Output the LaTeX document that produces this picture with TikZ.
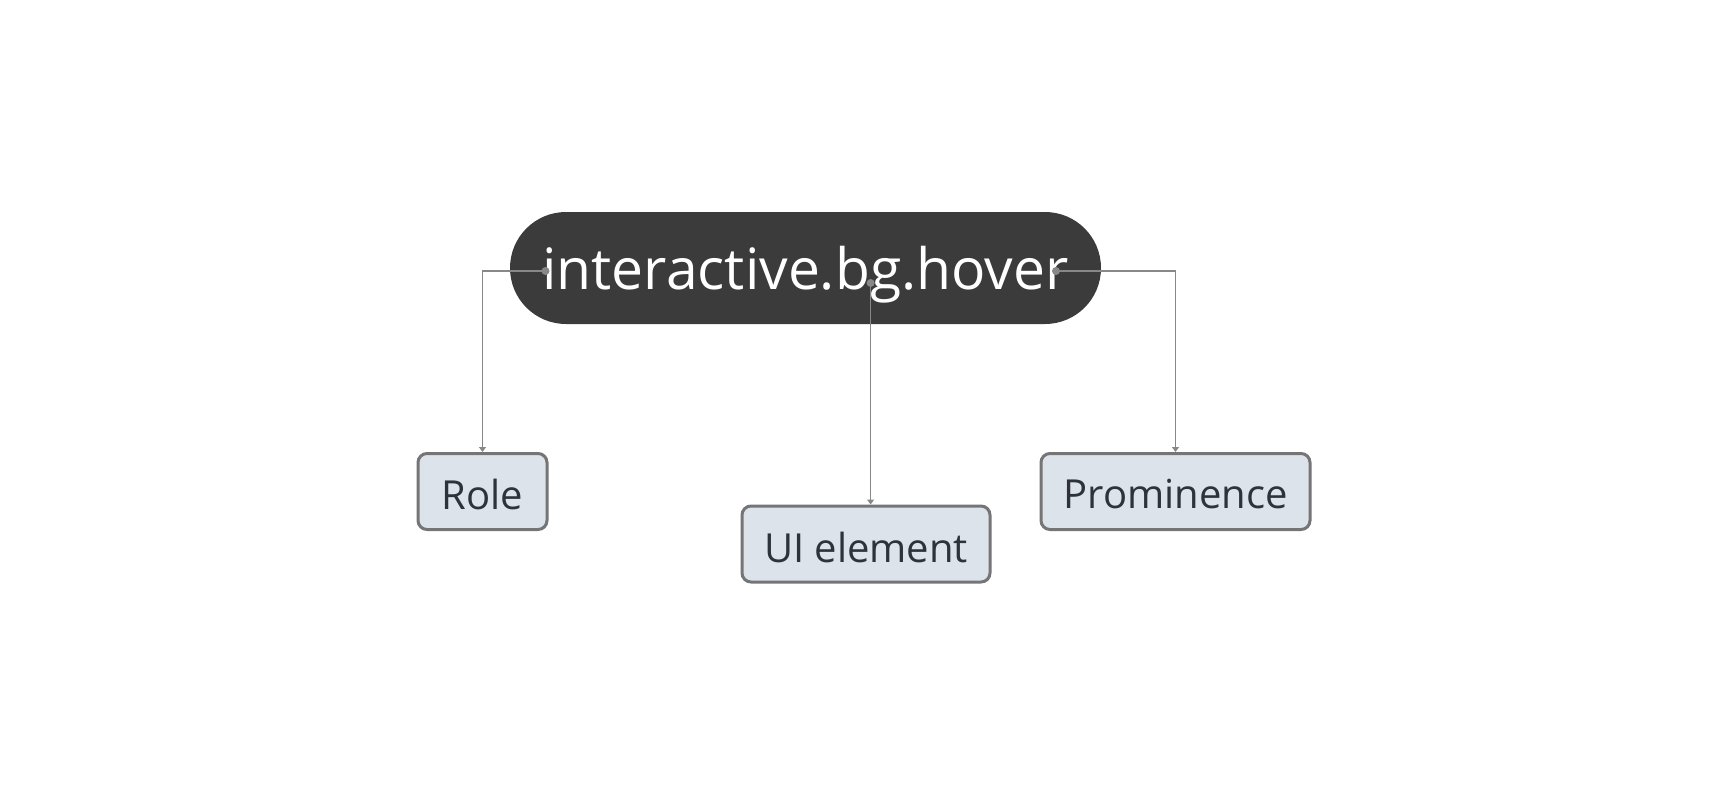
\documentclass[tikz,border=0pt]{standalone}
\usepackage{fontspec}
\setmainfont{Open Sans}
\usetikzlibrary{arrows.meta,calc}
\definecolor{pillc}{HTML}{3B3B3B}
\definecolor{boxfill}{HTML}{DDE3EA}
\definecolor{boxline}{HTML}{757575}
\definecolor{connc}{HTML}{888888}
\definecolor{txtc}{HTML}{2E323A}
\newcommand{\lowr}[2]{\raisebox{-#1}[\height][\depth]{#2}}
\tikzset{
  pillnode/.style={draw=none, fill=pillc, rounded corners=56pt, minimum width=591pt, minimum height=112pt, text=white, font=\fontsize{57}{62}\selectfont, inner sep=0pt},
  leaf/.style={draw=boxline, line width=3pt, fill=boxfill, rounded corners=9pt, minimum height=76pt, text=txtc, font=\fontsize{40}{46}\selectfont, inner sep=0pt},
  link/.style={draw=connc, line width=1.5pt, -{Triangle[width=7pt,length=5pt]}},
  dotc/.style={fill=connc}
}
\begin{document}
\begin{tikzpicture}[x=1pt,y=-1pt]
\useasboundingbox (0,0) rectangle (1728,800);
\node[pillnode] (main) at (805.5,268) {\lowr{7pt}{interactive.bg.hover}};
\node[leaf, minimum width=129pt] (role) at (482.5,491.5) {\lowr{3pt}{Role}};
\node[leaf, minimum width=248pt] (ui) at (866,544) {\lowr{3pt}{UI element}};
\node[leaf, minimum width=269pt] (prom) at (1175.5,491.5) {\lowr{3pt}{Prominence}};
\coordinate (d1) at (545.5,271);
\coordinate (d2) at (870.6,283);
\coordinate (d3) at (1056,271);
\draw[link] (d1) -| (role.north);
\draw[link] (d2) -- (d2 |- ui.north);
\draw[link] (d3) -| (prom.north);
\fill[dotc] (d1) circle (4pt);
\fill[dotc] (d2) circle (4pt);
\fill[dotc] (d3) circle (4pt);
\end{tikzpicture}
\end{document}
